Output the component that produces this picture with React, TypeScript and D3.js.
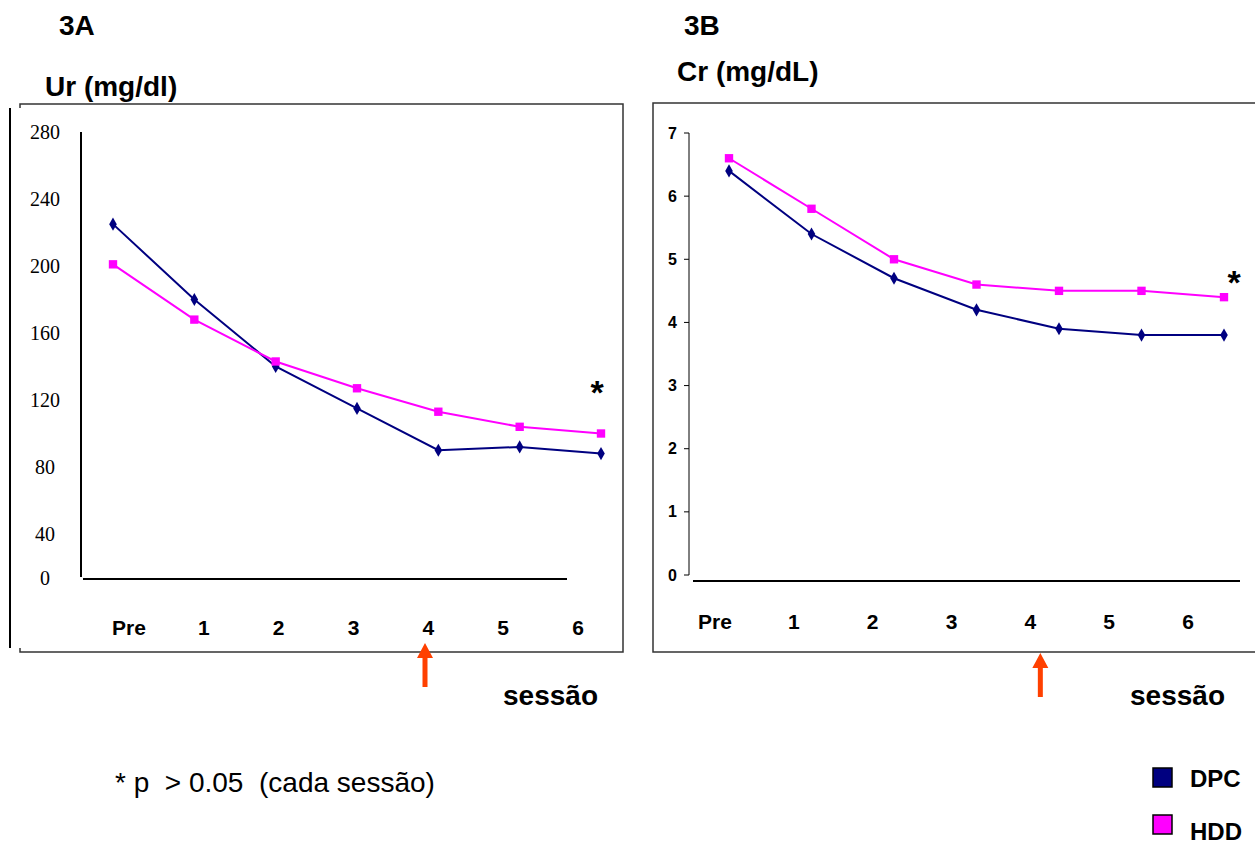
import React from "react";
import * as d3 from "d3";

const sessions = ["Pre", "1", "2", "3", "4", "5", "6"];
const urDPC = [225, 180, 140, 115, 90, 92, 88];
const urHDD = [201, 168, 143, 127, 113, 104, 100];
const urTicks = [0, 40, 80, 120, 160, 200, 240, 280];
const crDPC = [6.4, 5.4, 4.7, 4.2, 3.9, 3.8, 3.8];
const crHDD = [6.6, 5.8, 5.0, 4.6, 4.5, 4.5, 4.4];
const crTicks = [0, 1, 2, 3, 4, 5, 6, 7];

const NAVY = "#000080";
const PINK = "#FF00FF";
const ARROW = "#FF4000";
const FRAME = "#333";
const SANS = "'Liberation Sans', Arial, sans-serif";
const SERIF = "'Liberation Serif', 'Times New Roman', serif";

const diamond = d3.symbol().type(d3.symbolDiamond).size(50)();
const square = d3.symbol().type(d3.symbolSquare).size(70)();

const Arrow = ({ x, y }: { x: number; y: number }) => (
  <g transform={`translate(${x},${y})`}>
    <path d="M0,0 L8,15 L2.5,15 L2.5,44 L-2.5,44 L-2.5,15 L-8,15 Z" fill={ARROW} />
  </g>
);

const Series = ({ data, x, y, color, marker }: any) => {
  const line = d3
    .line<number>()
    .x((_, i) => x(sessions[i]))
    .y((d) => y(d));
  return (
    <g>
      <path d={line(data) || ""} fill="none" stroke={color} strokeWidth={2} />
      {data.map((d: number, i: number) => (
        <path key={i} d={marker} transform={`translate(${x(sessions[i])},${y(d)})`} fill={color} />
      ))}
    </g>
  );
};

export default function App() {
  // panel 3A
  const xUr = d3.scalePoint().domain(sessions).range([113, 601]);
  const xUrLab = d3.scalePoint().domain(sessions).range([129, 578]);
  const yUr = d3.scaleLinear().domain([0, 40, 280]).range([578, 534, 132]);

  // panel 3B
  const xCr = d3.scalePoint().domain(sessions).range([729, 1224]);
  const xCrLab = d3.scalePoint().domain(sessions).range([715, 1188]);
  const yCr = d3.scaleLinear().domain([0, 7]).range([575, 133]);

  return (
    <div style={{ position: "absolute", left: 0, top: 0 }}>
      <svg width={1255} height={845} style={{ display: "block", background: "#fff" }}>
        {/* titles */}
        <g fontFamily={SANS} fontWeight="bold" fill="#000" fontSize={28}>
          <text x={59} y={35}>3A</text>
          <text x={45} y={96}>Ur (mg/dl)</text>
          <text x={684} y={35}>3B</text>
          <text x={677} y={81}>Cr (mg/dL)</text>
        </g>

        {/* frame 3A */}
        <g stroke={FRAME} strokeWidth={1.5} fill="none">
          <path d="M20,108 L20,104 L623,104 L623,652 L20,652 L20,648" />
          <line x1={10} y1={108} x2={10} y2={648} stroke="#000" strokeWidth={2} />
        </g>
        {/* frame 3B */}
        <path d="M1255,103 L653,103 L653,652 L1255,652" stroke={FRAME} strokeWidth={1.5} fill="none" />

        {/* axes 3A */}
        <line x1={81} y1={yUr(280)} x2={81} y2={577} stroke="#000" strokeWidth={2} />
        <line x1={83} y1={579} x2={567} y2={579} stroke="#000" strokeWidth={2} />
        <g fontFamily={SERIF} fontSize={20} textAnchor="middle">
          {urTicks.map((t) => (
            <text key={t} x={45} y={yUr(t)} dy="0.35em">{t}</text>
          ))}
        </g>
        <g fontFamily={SANS} fontWeight="bold" fontSize={21} textAnchor="middle">
          {sessions.map((s) => (
            <text key={s} x={xUrLab(s)} y={635}>{s}</text>
          ))}
        </g>
        <Series data={urDPC} x={xUr} y={yUr} color={NAVY} marker={diamond} />
        <Series data={urHDD} x={xUr} y={yUr} color={PINK} marker={square} />
        <text x={597} y={404} fontFamily={SANS} fontWeight="bold" fontSize={34} textAnchor="middle">*</text>
        <Arrow x={425} y={643} />
        <text x={598} y={705} fontFamily={SANS} fontWeight="bold" fontSize={28} textAnchor="end">sessão</text>

        {/* axes 3B */}
        <line x1={689} y1={yCr(7)} x2={689} y2={yCr(0)} stroke="#000" strokeWidth={1} />
        {crTicks.map((t) => (
          <line key={t} x1={684} x2={689} y1={yCr(t)} y2={yCr(t)} stroke="#000" strokeWidth={1} />
        ))}
        <line x1={693} y1={581} x2={1240} y2={581} stroke="#000" strokeWidth={2} />
        <g fontFamily={SANS} fontWeight="bold" fontSize={16} textAnchor="end">
          {crTicks.map((t) => (
            <text key={t} x={677} y={yCr(t)} dy="0.35em">{t}</text>
          ))}
        </g>
        <g fontFamily={SANS} fontWeight="bold" fontSize={21} textAnchor="middle">
          {sessions.map((s) => (
            <text key={s} x={xCrLab(s)} y={629}>{s}</text>
          ))}
        </g>
        <Series data={crDPC} x={xCr} y={yCr} color={NAVY} marker={diamond} />
        <Series data={crHDD} x={xCr} y={yCr} color={PINK} marker={square} />
        <text x={1234} y={294} fontFamily={SANS} fontWeight="bold" fontSize={34} textAnchor="middle">*</text>
        <Arrow x={xCrLab("4")! + 10} y={653} />
        <text x={1225} y={705} fontFamily={SANS} fontWeight="bold" fontSize={28} textAnchor="end">sessão</text>

        {/* note */}
        <text x={115} y={792} fontFamily={SANS} fontSize={28} style={{ whiteSpace: "pre" }}>
          {"* p  > 0.05  (cada sessão)"}
        </text>

        {/* legend */}
        <g fontFamily={SANS} fontWeight="bold" fontSize={24}>
          <rect x={1153} y={768} width={19} height={19} fill={NAVY} stroke="#000" strokeWidth={1.5} />
          <text x={1190} y={787}>DPC</text>
          <rect x={1153} y={815} width={19} height={19} fill={PINK} stroke="#000" strokeWidth={1.5} />
          <text x={1190} y={840}>HDD</text>
        </g>
      </svg>
    </div>
  );
}
